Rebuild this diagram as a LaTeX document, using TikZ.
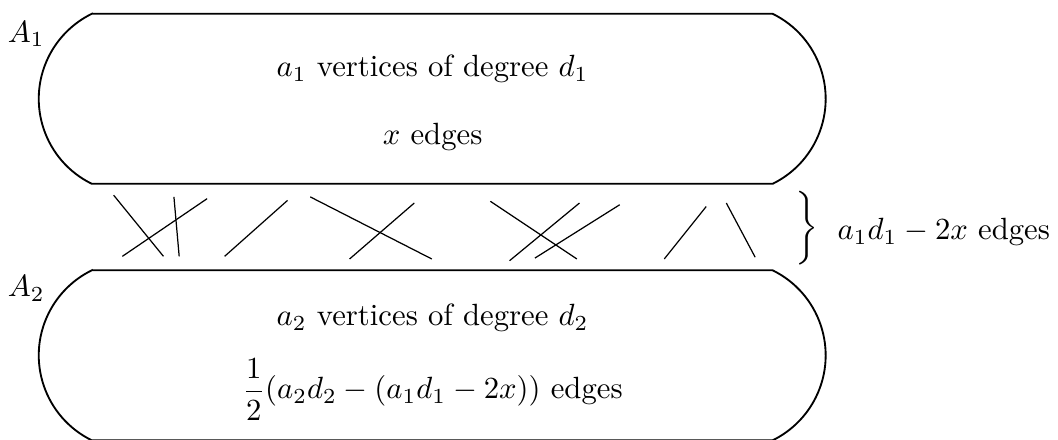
\documentclass[tikz,border=0pt]{standalone}
\usepackage{amsmath}
\usetikzlibrary{positioning}

\begin{document}
\begin{tikzpicture}[part/.style={semithick}, edge/.style={thin}, every node/.style={inner sep=0pt}]
    \useasboundingbox (0,0) rectangle (12.105,5.023);
    % the two vertex classes
    \draw[part] (1.05,4.865) -- (8.84,4.865) arc[start angle=63.9, end angle=-63.9, radius=1.083]
        -- (1.05,2.92) arc[start angle=243.9, end angle=116.1, radius=1.083] -- cycle;
    \draw[part] (1.05,1.93) -- (8.84,1.93) arc[start angle=63.9, end angle=-63.9, radius=1.083]
        -- (1.05,-0.015) arc[start angle=243.9, end angle=116.1, radius=1.083] -- cycle;
    \node[anchor=base] (nameA1) at (0.30,4.54) {$A_1$};
    \node[anchor=base] (nameA2) at (0.30,1.63) {$A_2$};
    \node[anchor=base] (top1) at (4.949,4.142) {$a_1$ vertices of degree $d_1$};
    \node[anchor=base] (top2) at (4.949,3.364) {$x$ edges};
    \node[anchor=base] (bot1) at (4.949,1.293) {$a_2$ vertices of degree $d_2$};
    \node[anchor=base] (bot2) at (4.949,0.458) {$\displaystyle\frac{1}{2}(a_2d_2-(a_1d_1-2x))$ edges};
    % edges between the classes
    \foreach \a/\b in {{1.30,2.79}/{1.87,2.09}, {1.99,2.77}/{2.05,2.09}, {2.37,2.75}/{1.40,2.09},
                       {3.29,2.73}/{2.57,2.09}, {3.55,2.77}/{4.94,2.06}, {4.74,2.70}/{4.00,2.06},
                       {5.61,2.72}/{6.60,2.06}, {6.63,2.70}/{5.83,2.04}, {7.09,2.68}/{6.12,2.07},
                       {8.08,2.66}/{7.60,2.06}, {8.31,2.70}/{8.64,2.08}}
        \draw[edge] (\a) -- (\b);
    \node[anchor=west] (brace) at (9.10,2.414) {$\bigg\}$};
    \node[anchor=base west] (cross) at (9.577,2.277) {$a_1d_1-2x$ edges};
\end{tikzpicture}
\end{document}
